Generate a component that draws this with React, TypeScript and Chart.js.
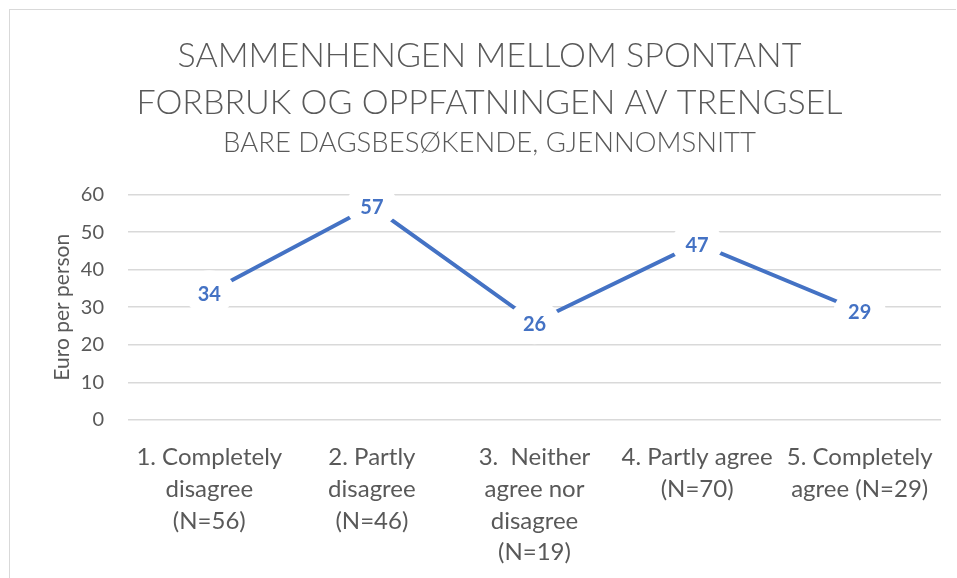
import React, { useEffect, useRef } from "react";
import { Chart, registerables } from "chart.js";

Chart.register(...registerables);

const titleLines = ["SAMMENHENGEN MELLOM SPONTANT", "FORBRUK OG OPPFATNINGEN AV TRENGSEL"];
const subtitleText = "BARE DAGSBESØKENDE, GJENNOMSNITT";
const yAxisTitle = "Euro per person";
const categories: string[][] = [
  ["1. Completely", "disagree", "(N=56)"],
  ["2. Partly", "disagree", "(N=46)"],
  ["3.  Neither", "agree nor", "disagree", "(N=19)"],
  ["4. Partly agree", "(N=70)"],
  ["5. Completely", "agree (N=29)"],
];
const values = [34, 57, 26, 47, 29];
const yMin = 0;
const yMax = 60;
const yStep = 10;

const FONT = "Lato, 'Open Sans', sans-serif";
const GREY = "#595959";
const BLUE = "#4472C4";

const labelPlugin = {
  id: "valueLabels",
  afterDatasetsDraw(chart: any) {
    const ctx = chart.ctx;
    const meta = chart.getDatasetMeta(0);
    const data = chart.data.datasets[0].data as number[];
    ctx.save();
    ctx.font = `bold 20px ${FONT}`;
    ctx.textAlign = "center";
    ctx.textBaseline = "middle";
    meta.data.forEach((pt: any, i: number) => {
      const { x, y } = pt.getProps(["x", "y"], true);
      ctx.fillStyle = "#ffffff";
      ctx.beginPath();
      ctx.ellipse(x, y, 26, 22, 0, 0, Math.PI * 2);
      ctx.fill();
      ctx.fillStyle = BLUE;
      ctx.fillText(String(data[i]), x, y + 2);
    });
    ctx.restore();
  },
};

export default function App() {
  const ref = useRef<HTMLCanvasElement | null>(null);
  useEffect(() => {
    if (!ref.current) return;
    const chart = new Chart(ref.current, {
      type: "line",
      data: {
        labels: categories,
        datasets: [
          {
            data: values,
            borderColor: BLUE,
            backgroundColor: BLUE,
            borderWidth: 4,
            pointRadius: 0,
            tension: 0,
          },
        ],
      },
      options: {
        animation: false,
        responsive: false,
        maintainAspectRatio: false,
        layout: { padding: { left: 38, right: 16, top: 10, bottom: 0 } },
        plugins: {
          legend: { display: false },
          tooltip: { enabled: false },
          title: {
            display: true,
            text: titleLines,
            color: GREY,
            font: { family: FONT, size: 34, weight: "300" as any, lineHeight: 1.382 },
            padding: { top: 22.5, bottom: 0 },
          },
          subtitle: {
            display: true,
            text: subtitleText,
            color: GREY,
            font: { family: FONT, size: 27.5, weight: "300" as any, lineHeight: 1.2 },
            padding: { top: 0, bottom: 35 },
          },
        },
        scales: {
          x: {
            offset: true,
            grid: { display: false, drawTicks: false },
            border: { display: false },
            ticks: {
              color: GREY,
              font: { family: FONT, size: 24, lineHeight: 1.33 },
              padding: 21,
              maxRotation: 0,
              autoSkip: false,
            },
            afterFit(scale: any) {
              scale.height = 158;
            },
          },
          y: {
            min: yMin,
            max: yMax,
            grid: { color: "#d9d9d9", lineWidth: 1.5, drawTicks: false },
            border: { display: false },
            ticks: {
              stepSize: yStep,
              color: GREY,
              font: { family: FONT, size: 20 },
              padding: 24,
            },
            title: {
              display: true,
              text: yAxisTitle,
              color: GREY,
              font: { family: FONT, size: 21, lineHeight: 1.2 },
              padding: { top: 11.4, bottom: 0 },
            },
            afterFit(scale: any) {
              scale.width = 90;
            },
          },
        },
      },
      plugins: [labelPlugin],
    });
    return () => chart.destroy();
  }, []);

  return (
    <div style={{ position: "fixed", left: 0, top: 0, width: 957, height: 578, background: "#fff", overflow: "hidden" }}>
      <div
        style={{
          position: "absolute",
          left: 9,
          top: 9,
          width: 947,
          height: 600,
          borderTop: "1.5px solid #d9d9d9",
          borderLeft: "1.5px solid #d9d9d9",
          boxSizing: "border-box",
        }}
      />
      <canvas ref={ref} width={957} height={578} style={{ position: "absolute", left: 0, top: 0 }} />
    </div>
  );
}
